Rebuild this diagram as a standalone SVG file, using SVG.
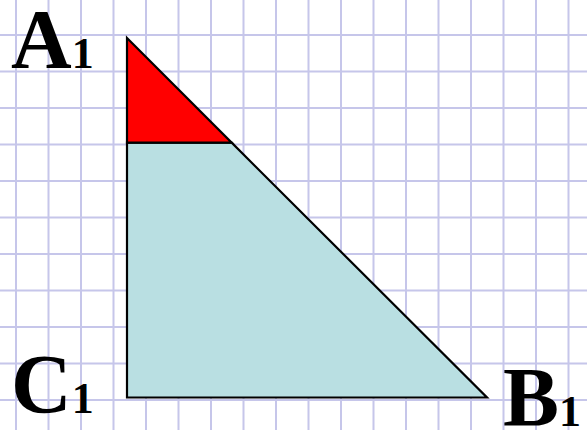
<svg xmlns="http://www.w3.org/2000/svg" width="587" height="430" viewBox="0 0 587 430">
<defs>
<style>
.grid{stroke:#c6c6ea;stroke-width:2;fill:none}
.edge{stroke:#000;stroke-width:2.2;stroke-linejoin:miter}
.lbl{font-family:"Liberation Serif","Times New Roman",serif;font-weight:bold;fill:#000}
.big{font-size:84px}
.sub{font-size:44px}
</style>
</defs>
<rect width="587" height="430" fill="#ffffff"/>
<g id="grid">
<path class="grid" d="M16 0V430M48.5 0V430M81 0V430M113.5 0V430M146 0V430M178.5 0V430M211 0V430M243.5 0V430M276 0V430M308.5 0V430M341 0V430M373.5 0V430M406 0V430M438.5 0V430M471 0V430M503.5 0V430M536 0V430M568.5 0V430"/>
<path class="grid" d="M0 35H587M0 71.5H587M0 108H587M0 144.5H587M0 181H587M0 217.5H587M0 254H587M0 290.5H587M0 327H587M0 363.5H587M0 400H587"/>
</g>
<g id="triangle">
<polygon points="127,142.7 231.7,142.7 487,397.5 127,397.5" fill="#b9dfe2" class="edge"/>
<polygon points="127,38 231.7,142.7 127,142.7" fill="#ff0000" class="edge"/>
</g>
<g id="label-A1"><text class="lbl big" x="11" y="67.5">A<tspan class="sub">1</tspan></text></g>
<g id="label-C1"><text class="lbl big" x="11" y="413">C<tspan class="sub">1</tspan></text></g>
<g id="label-B1"><text class="lbl big" x="503" y="426">B<tspan class="sub">1</tspan></text></g>
</svg>
